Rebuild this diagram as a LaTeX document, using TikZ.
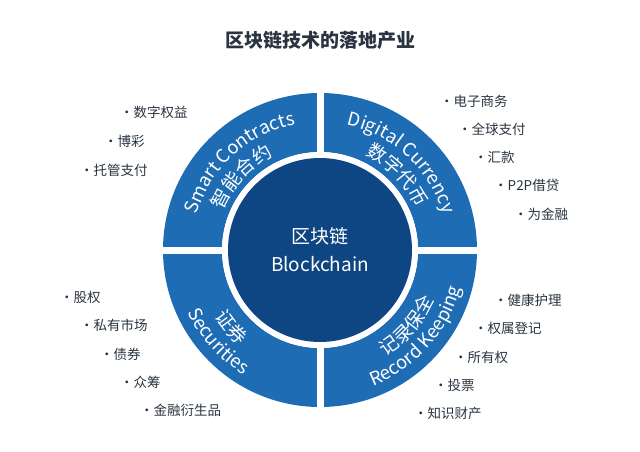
\documentclass[tikz,border=0pt]{standalone}
\usepackage{fontspec}
\setmainfont{Noto Sans CJK SC}
\usetikzlibrary{decorations.text}
\definecolor{ringblue}{HTML}{1E6CB4}
\definecolor{coreblue}{HTML}{0D4682}
\definecolor{listgray}{HTML}{2A3440}
\tikzset{
  item/.style={anchor=west,inner sep=0pt,text=listgray,font=\fontsize{13.5}{15}\selectfont},
  arctext/.style 2 args={decorate,decoration={text along path,text align=center,
    text color=white,text={|\fontsize{#1}{20}\selectfont|#2}}}
}
\begin{document}
\begin{tikzpicture}[x=1pt,y=1pt]
\useasboundingbox (0,0) rectangle (640,451);
\coordinate (c) at (320,201);
\node[text=listgray,font=\fontsize{19}{22}\selectfont\bfseries] (title) at (320,411) {区块链技术的落地产业};
% ring and core
\fill[ringblue,even odd rule] (c) circle (157) (c) circle (98);
\fill[white] ([xshift=-160,yshift=-3.5]c) rectangle ([xshift=160,yshift=3.5]c);
\fill[white] ([xshift=-3.5,yshift=-160]c) rectangle ([xshift=3.5,yshift=160]c);
\fill[white] (c) circle (98);
\fill[coreblue] (c) circle (92);
\node[text=white,font=\fontsize{19}{23}\selectfont,align=center] (core) at (c) {区块链\\[5pt]Blockchain};
% curved labels
\path[arctext={18.5}{Smart Contracts}] ([shift={(168:128)}]c) arc (168:97:128);
\path[arctext={19}{智能合约}] ([shift={(162:105)}]c) arc (162:112:105);
\path[arctext={18.5}{Digital Currency}] ([shift={(83:128)}]c) arc (83:11:128);
\path[arctext={19}{数字代币}] ([shift={(68:105)}]c) arc (68:20:105);
\path[arctext={18.5}{Securities}] ([shift={(198:146)}]c) arc (198:246:146);
\path[arctext={19}{证券}] ([shift={(204:125)}]c) arc (204:238:125);
\path[arctext={18.5}{Record Keeping}] ([shift={(282:146)}]c) arc (282:354:146);
\path[arctext={19}{记录保全}] ([shift={(294:125)}]c) arc (294:344:125);
% lists
\foreach \t/\x/\y [count=\i] in {数字权益/120/112,博彩/104/141,托管支付/80/170}
  \node[item] (sc\i) at (\x,451-\y) {·\t};
\foreach \t/\x/\y [count=\i] in {电子商务/440/101,全球支付/458/129,汇款/474/157,P2P借贷/494/185,为金融/514/214}
  \node[item] (dc\i) at (\x,451-\y) {·\t};
\foreach \t/\x/\y [count=\i] in {股权/60/297,私有市场/80/325,债券/100/354,众筹/120/382,金融衍生品/140/410}
  \node[item] (se\i) at (\x,451-\y) {·\t};
\foreach \t/\x/\y [count=\i] in {健康护理/494/300,权属登记/474/328,所有权/454/357,投票/434/385,知识财产/414/413}
  \node[item] (rk\i) at (\x,451-\y) {·\t};
\end{tikzpicture}
\end{document}
